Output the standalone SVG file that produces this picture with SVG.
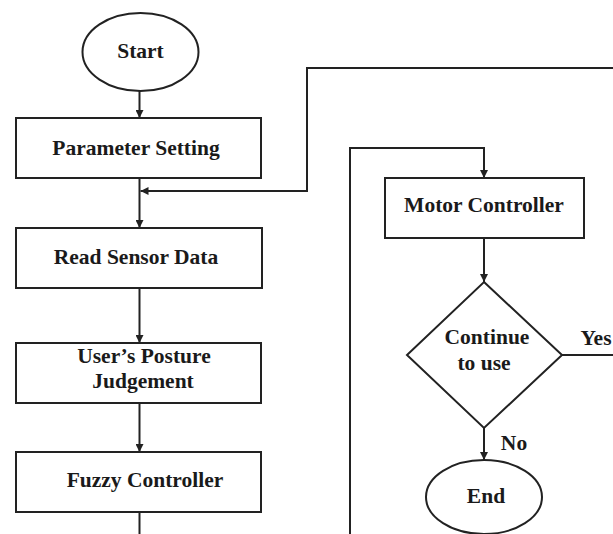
<svg xmlns="http://www.w3.org/2000/svg" width="613" height="534" viewBox="0 0 613 534">
  <style>
    .shape { fill: #fff; stroke: #222; stroke-width: 2; }
    .line { fill: none; stroke: #222; stroke-width: 2; }
    .label { font-family: "Liberation Serif", "Times New Roman", serif; font-weight: bold; font-size: 21.5px; fill: #1a1a1a; text-anchor: middle; dominant-baseline: central; }
  </style>
  <defs>
    <marker id="arrow" viewBox="0 0 8 8" refX="8" refY="4" markerWidth="8" markerHeight="8" markerUnits="userSpaceOnUse" orient="auto">
      <path d="M0,0 L8,4 L0,8 Z" fill="#222"/>
    </marker>
  </defs>
  <rect width="613" height="534" fill="#fff"/>

  <g id="connectors">
    <line class="line" x1="139.5" y1="91" x2="139.5" y2="118" marker-end="url(#arrow)"/>
    <line class="line" x1="139.5" y1="178" x2="139.5" y2="228" marker-end="url(#arrow)"/>
    <polyline class="line" points="613,68 307,68 307,191 140.5,191" marker-end="url(#arrow)"/>
    <line class="line" x1="139.5" y1="288" x2="139.5" y2="343" marker-end="url(#arrow)"/>
    <line class="line" x1="139.5" y1="403" x2="139.5" y2="452" marker-end="url(#arrow)"/>
    <line class="line" x1="139.5" y1="512" x2="139.5" y2="534"/>
    <polyline class="line" points="350,534 350,148 484,148 484,178" marker-end="url(#arrow)"/>
    <line class="line" x1="484" y1="238" x2="484" y2="282" marker-end="url(#arrow)"/>
    <line class="line" x1="562" y1="355" x2="613" y2="355"/>
    <line class="line" x1="484" y1="428" x2="484" y2="460" marker-end="url(#arrow)"/>
    <text class="label" x="596" y="338">Yes</text>
    <text class="label" x="514" y="443">No</text>
  </g>

  <g id="start">
    <ellipse class="shape" cx="140.5" cy="52" rx="58" ry="39"/>
    <text class="label" x="140.5" y="51">Start</text>
  </g>

  <g id="parameter-setting">
    <rect class="shape" x="16" y="118" width="245" height="60"/>
    <text class="label" x="136" y="148">Parameter Setting</text>
  </g>

  <g id="read-sensor-data">
    <rect class="shape" x="16" y="228" width="246" height="60"/>
    <text class="label" x="136" y="257">Read Sensor Data</text>
  </g>

  <g id="posture-judgement">
    <rect class="shape" x="16" y="343" width="245" height="60"/>
    <text class="label" x="144" y="356">User’s Posture</text>
    <text class="label" x="143" y="381">Judgement</text>
  </g>

  <g id="fuzzy-controller">
    <rect class="shape" x="16" y="452" width="245" height="60"/>
    <text class="label" x="145" y="480">Fuzzy Controller</text>
  </g>

  <g id="motor-controller">
    <rect class="shape" x="385" y="178" width="199" height="60"/>
    <text class="label" x="484" y="205">Motor Controller</text>
  </g>

  <g id="continue-to-use">
    <polygon class="shape" points="484,282 562,355 484,428 407,355"/>
    <text class="label" x="487" y="337">Continue</text>
    <text class="label" x="484" y="363">to use</text>
  </g>

  <g id="end">
    <ellipse class="shape" cx="484" cy="497" rx="58" ry="37"/>
    <text class="label" x="486" y="496">End</text>
  </g>
</svg>
